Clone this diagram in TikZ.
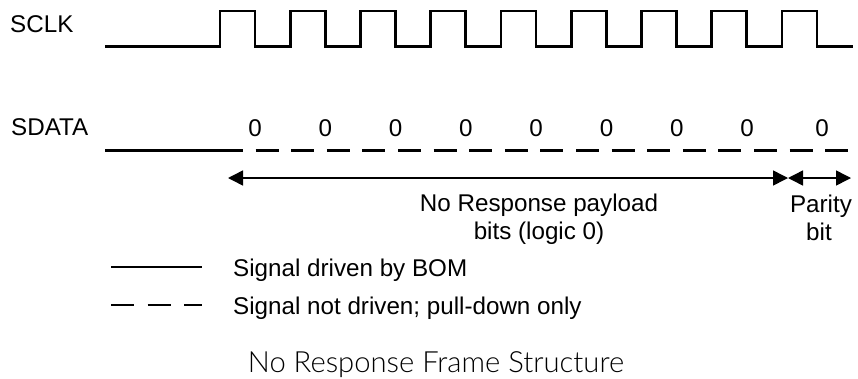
\documentclass[tikz,border=0pt]{standalone}
\usepackage{fontspec}
\setmainfont{Liberation Sans}
\newfontfamily\capfont{Lato Light}
\usetikzlibrary{arrows.meta}
\begin{document}
\begin{tikzpicture}[x=1pt,y=-1pt,
  sig/.style={line width=2.6pt, line join=miter},
  dsh/.style={line width=2.6pt, dash pattern=on 23pt off 12.6pt},
  legdsh/.style={line width=2.6pt, dash pattern=on 23pt off 13.5pt},
  lbl/.style={font=\fontsize{24.2}{28}\selectfont, inner sep=0pt, text=black},
  captionstyle/.style={font=\capfont\fontsize{29.2}{32}\selectfont, inner sep=0pt, text=black},
  dimarrow/.style={line width=1.5pt, {Triangle[length=15pt,width=15pt]}-{Triangle[length=15pt,width=15pt]}},
]
\useasboundingbox (0,0) rectangle (858,378);

% labels
\node[lbl, anchor=base west] (sclk) at (10,32) {SCLK};
\node[lbl, anchor=base west] (sdata) at (11,135) {SDATA};

% SCLK waveform
\coordinate (cs) at (105,46.5);
\coordinate (ce) at (853,46.5);
\draw[sig] (cs) foreach \k in {0,...,8} { -- ({220+70.25*\k},46.5) -- ++(0,-35.5) -- ++(35,0) -- ++(0,35.5) } -- (ce);

% SDATA waveform
\coordinate (ds) at (105,150.5);
\coordinate (dm) at (220,150.5);
\coordinate (de) at (848,150.5);
\draw[sig] (ds) -- (dm);
\draw[dsh] (dm) -- (de);

% bit values
\foreach \k in {0,...,7} {
  \node[lbl, anchor=base] (z\k) at ({255+70.3*\k},136) {0};
}
\node[lbl, anchor=base] (zp) at (822,136) {0};

% dimension arrows
\coordinate (aL) at (228,178);
\coordinate (aM) at (788,178);
\coordinate (aR) at (851,178);
\draw[dimarrow] (aL) -- (aM);
\draw[dimarrow] (aM) -- (aR);

\node[lbl, anchor=base] (pl1) at (539,211) {No Response payload};
\node[lbl, anchor=base] (pl2) at (539,239) {bits (logic 0)};
\node[lbl, anchor=base] (pb1) at (821,212) {Parity};
\node[lbl, anchor=base] (pb2) at (819,240) {bit};

% legend
\coordinate (l1a) at (111,267);
\coordinate (l1b) at (202,267);
\coordinate (l2a) at (111,305);
\coordinate (l2b) at (202,305);
\draw[sig] (l1a) -- (l1b);
\draw[legdsh] (l2a) -- (l2b);
\node[lbl, anchor=base west] (leg1) at (233,276) {Signal driven by BOM};
\node[lbl, anchor=base west] (leg2) at (233,314) {Signal not driven; pull-down only};

% caption
\node[captionstyle, anchor=base] (caption) at (436,372) {No Response Frame Structure};
\end{tikzpicture}
\end{document}
